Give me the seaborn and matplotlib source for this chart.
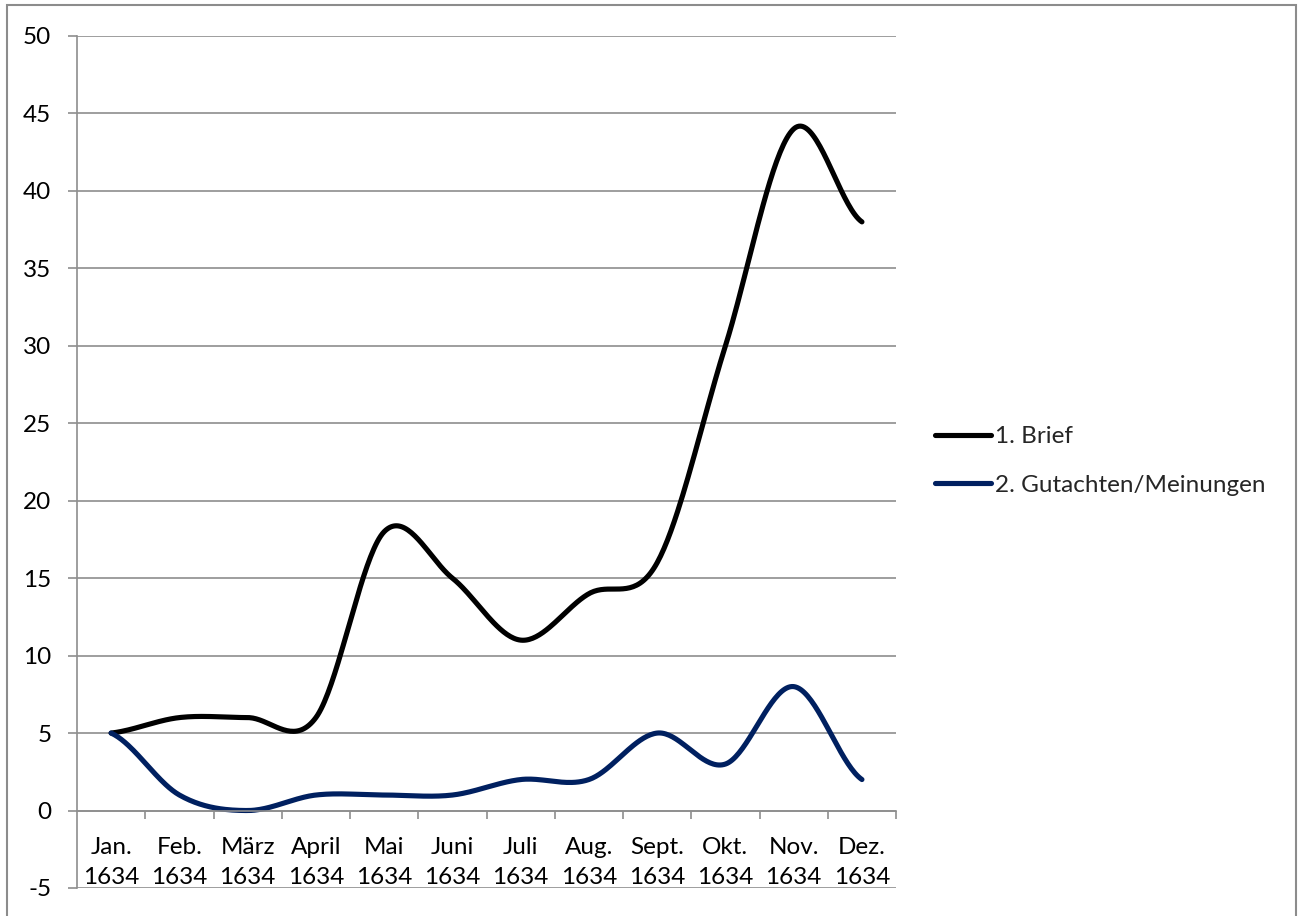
import numpy as np
import pandas as pd
import matplotlib
matplotlib.use("Agg")
import matplotlib.pyplot as plt
from matplotlib.patches import Rectangle
import seaborn as sns

months = ["Jan.", "Feb.", "März", "April", "Mai", "Juni",
          "Juli", "Aug.", "Sept.", "Okt.", "Nov.", "Dez."]
year = "1634"
series_names = ["1. Brief", "2. Gutachten/Meinungen"]
brief = [5, 6, 6, 6, 18, 15, 11, 14, 16, 30, 44, 38]
gutachten = [5, 1, 0, 1, 1, 1, 2, 2, 5, 3, 8, 2]
colors = ["#000000", "#002060"]


def smooth(values, steps=40):
    """Catmull-Rom style Bezier smoothing through every point (spreadsheet 'smoothed line')."""
    p = np.asarray(values, dtype=float)
    n = len(p)
    xs, ys = [], []
    for i in range(n - 1):
        p0 = p[i - 1] if i > 0 else p[i]
        p1, p2 = p[i], p[i + 1]
        p3 = p[i + 2] if i + 2 < n else p[i + 1]
        c1 = p1 + (p2 - p0) / 6.0
        c2 = p2 - (p3 - p1) / 6.0
        t = np.linspace(0, 1, steps, endpoint=(i == n - 2))
        y = ((1 - t) ** 3) * p1 + 3 * ((1 - t) ** 2) * t * c1 + 3 * (1 - t) * t ** 2 * c2 + t ** 3 * p2
        xs.append(i + t)
        ys.append(y)
    return np.concatenate(xs), np.concatenate(ys)


frames = []
for name, vals in zip(series_names, [brief, gutachten]):
    sx, sy = smooth(vals)
    frames.append(pd.DataFrame({"x": sx, "y": sy, "Serie": name}))
df = pd.concat(frames, ignore_index=True)

sns.set_theme(style="white")
plt.rcParams["font.family"] = ["Lato", "DejaVu Sans"]

fs = 17.5
grid_col = "#8e8e8e"
fig = plt.figure(figsize=(13.03, 9.16), dpi=100)
ax = fig.add_axes([0.0591, 0.0306, 0.6286, 0.9301])

sns.lineplot(data=df, x="x", y="y", hue="Serie", palette=colors,
             linewidth=3.7, ax=ax, sort=False, estimator=None,
             solid_capstyle="round")

ax.set_xlim(-0.5, 11.5)
ax.set_ylim(-5, 50)
ax.set_xlabel("")
ax.set_ylabel("")

# y axis
yt = list(range(-5, 51, 5))
ax.set_yticks(yt)
ax.set_yticklabels([str(v) for v in yt])
ax.yaxis.grid(True, color=grid_col, linewidth=1.2)
ax.tick_params(axis="y", direction="out", length=6.5, width=1.2, color=grid_col,
               pad=12, labelsize=fs, labelcolor="black", left=True)

# category axis crossing at zero
ax.spines["bottom"].set_position(("data", 0))
ax.set_xticks(range(len(months)))
ax.set_xticklabels([f"{m}\n{year}" for m in months], linespacing=1.55)
ax.set_xticks(np.arange(0.5, len(months), 1.0), minor=True)
ax.tick_params(axis="x", which="major", length=0, pad=19, labelsize=fs, labelcolor="black")
ax.tick_params(axis="x", which="minor", direction="out", length=5.8, width=1.2,
               color=grid_col, bottom=True)

for side in ["top", "right"]:
    ax.spines[side].set_visible(False)
for side in ["left", "bottom"]:
    ax.spines[side].set_color(grid_col)
    ax.spines[side].set_linewidth(1.2)

handles, labels = ax.get_legend_handles_labels()
ax.legend(handles, labels, loc="center left", bbox_to_anchor=(0.7176, 0.4967),
          bbox_transform=fig.transFigure, frameon=False, fontsize=fs,
          handlelength=2.3, handletextpad=0.15, labelspacing=1.12,
          borderpad=0, borderaxespad=0)

fig.patches.append(Rectangle((7 / 1303, -0.05), (1296 - 7) / 1303, 0.9945 + 0.05,
                             transform=fig.transFigure, fill=False,
                             edgecolor="#8c8c8c", linewidth=1.5))

fig.savefig("out.png", dpi=100)
